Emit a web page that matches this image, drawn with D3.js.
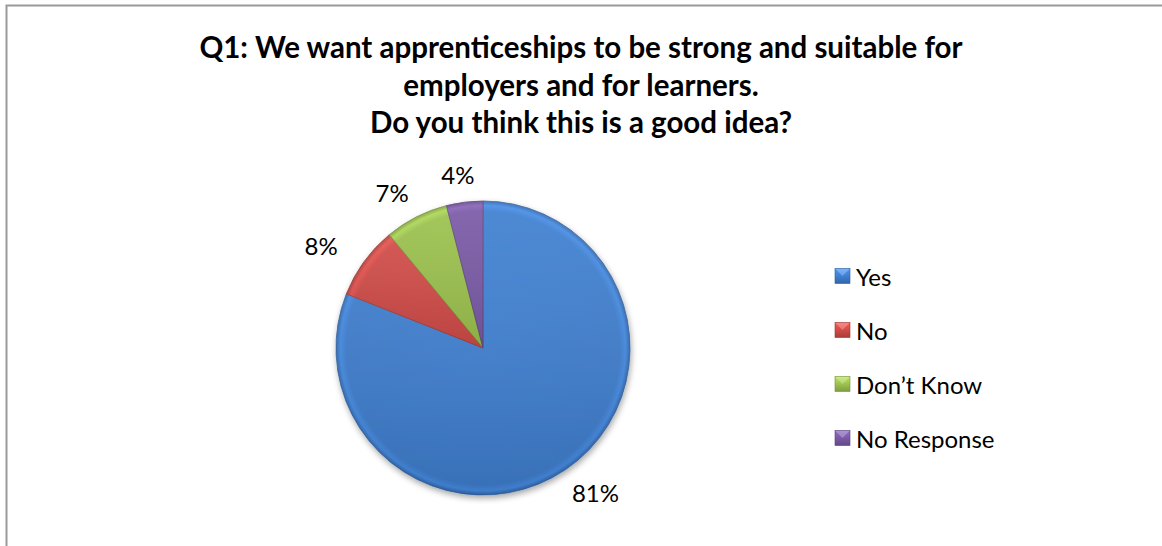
<!DOCTYPE html>
<html>
<head>
<meta charset="utf-8">
<script src="https://cdn.jsdelivr.net/npm/d3@7"></script>
<style>
  html, body { margin: 0; padding: 0; background: #fff; }
  svg { display: block; }
</style>
</head>
<body>
<div id="chart"></div>
<script>
// data
var categories = ["Yes", "No", "Don\u2019t Know", "No Response"];
var values = [81, 8, 7, 4];
var titleLines = [
  "Q1: We want apprenticeships to be strong and suitable for",
  "employers and for learners.",
  "Do you think this is a good idea?"
];
var colors = ["#3f7fd0", "#d04b47", "#9cc24e", "#7a5aa6"];

var width = 1162, height = 546;
var font = "Lato, 'Open Sans', sans-serif";

var svg = d3.select("#chart").append("svg")
    .attr("width", width)
    .attr("height", height);

// chart frame (runs past the right and bottom edges)
svg.append("rect")
    .attr("x", 6.5).attr("y", 5.5)
    .attr("width", width + 20).attr("height", height + 20)
    .attr("fill", "none")
    .attr("stroke", "#9a9a9a")
    .attr("stroke-width", 2);

// title
svg.append("text")
    .attr("text-anchor", "middle")
    .attr("font-family", font)
    .attr("font-weight", "bold")
    .attr("font-size", 29.5)
    .attr("fill", "#000")
  .selectAll("tspan")
  .data(titleLines)
  .enter().append("tspan")
    .attr("x", width / 2)
    .attr("y", function(d, i) { return 58 + i * 37.5; })
    .text(function(d) { return d; });

var defs = svg.append("defs");

// shading for the slices
colors.forEach(function(c, i) {
  var base = d3.color(c);
  var g = defs.append("radialGradient")
      .attr("id", "sl" + i)
      .attr("gradientUnits", "userSpaceOnUse")
      .attr("cx", 0).attr("cy", 0).attr("r", 147);
  g.append("stop").attr("offset", "0%").attr("stop-color", base.brighter(0.05));
  g.append("stop").attr("offset", "93%").attr("stop-color", base);
  g.append("stop").attr("offset", "97%").attr("stop-color", base.brighter(0.3));
  g.append("stop").attr("offset", "100%").attr("stop-color", base.darker(0.5));

  var lg = defs.append("linearGradient")
      .attr("id", "lg" + i)
      .attr("x1", 0).attr("y1", 0).attr("x2", 0).attr("y2", 1);
  lg.append("stop").attr("offset", "0%").attr("stop-color", base.brighter(0.5));
  lg.append("stop").attr("offset", "50%").attr("stop-color", base);
  lg.append("stop").attr("offset", "100%").attr("stop-color", base.darker(0.6));
});

// top-light / bottom-dark overlay
var ov = defs.append("linearGradient")
    .attr("id", "overlay")
    .attr("x1", 0).attr("y1", 0).attr("x2", 0).attr("y2", 1);
ov.append("stop").attr("offset", "0%").attr("stop-color", "#fff").attr("stop-opacity", 0.08);
ov.append("stop").attr("offset", "100%").attr("stop-color", "#000").attr("stop-opacity", 0.12);

var shadow = defs.append("filter").attr("id", "shadow")
    .attr("x", "-20%").attr("y", "-20%").attr("width", "140%").attr("height", "140%");
shadow.append("feGaussianBlur").attr("in", "SourceAlpha").attr("stdDeviation", 3);
shadow.append("feOffset").attr("dx", 1).attr("dy", 3).attr("result", "b");
shadow.append("feComponentTransfer").append("feFuncA").attr("type", "linear").attr("slope", 0.35);
var merge = shadow.append("feMerge");
merge.append("feMergeNode");
merge.append("feMergeNode").attr("in", "SourceGraphic");

// pie
var cx = 483, cy = 348, radius = 147;

var pie = d3.pie().sort(null).value(function(d) { return d; });
var arc = d3.arc().innerRadius(0).outerRadius(radius);
var arcs = pie(values);

var gPie = svg.append("g")
    .attr("transform", "translate(" + cx + "," + cy + ")");

var gSlices = gPie.append("g").attr("filter", "url(#shadow)");

gSlices.selectAll("path.slice")
  .data(arcs)
  .enter().append("path")
    .attr("class", "slice")
    .attr("d", arc)
    .attr("fill", function(d, i) { return "url(#sl" + i + ")"; })
    .attr("stroke", function(d, i) { return d3.color(colors[i]).darker(0.7); })
    .attr("stroke-width", 0.8)
    .attr("stroke-linejoin", "round");

gSlices.selectAll("path.shade")
  .data(arcs)
  .enter().append("path")
    .attr("class", "shade")
    .attr("d", arc)
    .attr("fill", "url(#overlay)")
    .attr("pointer-events", "none");

// percentage labels outside the slices (on an ellipse round the pie)
var labelRx = radius + 53, labelRy = radius + 28;
gPie.selectAll("text.pct")
  .data(arcs)
  .enter().append("text")
    .attr("class", "pct")
    .attr("font-family", font)
    .attr("font-size", 24)
    .attr("fill", "#000")
    .attr("text-anchor", "middle")
    .attr("dominant-baseline", "central")
    .attr("transform", function(d) {
      var a = (d.startAngle + d.endAngle) / 2;
      return "translate(" + (labelRx * Math.sin(a)) + "," + (-labelRy * Math.cos(a)) + ")";
    })
    .text(function(d) { return d.data + "%"; });

// legend
var legendY = d3.scalePoint()
    .domain(categories)
    .range([276, 438]);

var legend = svg.append("g").selectAll("g")
  .data(categories)
  .enter().append("g")
    .attr("transform", function(d) { return "translate(835," + legendY(d) + ")"; });

legend.append("rect")
    .attr("x", 0).attr("y", -7.5)
    .attr("width", 15).attr("height", 15)
    .attr("fill", function(d, i) { return "url(#lg" + i + ")"; })
    .attr("stroke", function(d, i) { return d3.color(colors[i]).darker(0.8); })
    .attr("stroke-width", 0.6);

legend.append("path")
    .attr("d", "M0.5,-7 L7.5,0 L14.5,-7 Z")
    .attr("fill", "#fff")
    .attr("fill-opacity", 0.25);

legend.append("text")
    .attr("x", 21)
    .attr("y", 0)
    .attr("dominant-baseline", "central")
    .attr("font-family", font)
    .attr("font-size", 24)
    .attr("fill", "#000")
    .text(function(d) { return d; });
</script>
</body>
</html>
